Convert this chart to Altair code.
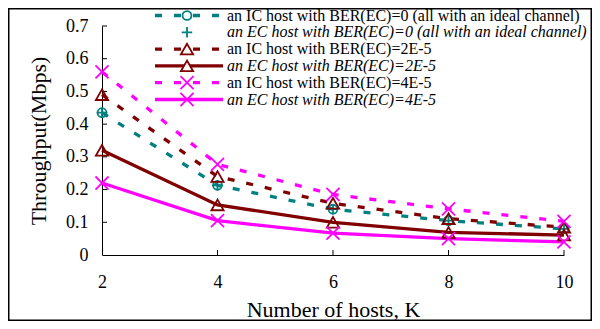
import altair as alt
import pandas as pd

# ---------------- data ----------------
K = [2, 4, 6, 8, 10]
ic_ber0 = [0.435, 0.213, 0.14, 0.105, 0.08]
ec_ber0 = [0.435, 0.213, 0.14, 0.105, 0.08]
ic_ber2 = [0.49, 0.24, 0.158, 0.111, 0.085]
ec_ber2 = [0.32, 0.153, 0.10, 0.069, 0.061]
ic_ber4 = [0.56, 0.277, 0.185, 0.141, 0.103]
ec_ber4 = [0.22, 0.105, 0.067, 0.05, 0.04]

labels = [
    "an IC host with BER(EC)=0 (all with an ideal channel)",
    "an EC host with BER(EC)=0 (all with an ideal channel)",
    "an IC host with BER(EC)=2E-5",
    "an EC host with BER(EC)=2E-5",
    "an IC host with BER(EC)=4E-5",
    "an EC host with BER(EC)=4E-5",
]
y_ticks = [0, 0.1, 0.2, 0.3, 0.4, 0.5, 0.6, 0.7]
x_ticks = [2, 4, 6, 8, 10]

# ---------------- style ----------------
TEAL = "#008080"
MAROON = "#800000"
MAGENTA = "#FF00FF"
X_SHAPE = "M-1,-1L1,1M-1,1L1,-1"
PLUS_SHAPE = "M-1,0L1,0M0,-1L0,1"
DASH = [7, 12]
FONT = "Liberation Serif"

series = [
    dict(values=ic_ber0, color=TEAL, dash=DASH, line=True, shape="circle", size=80, italic=False),
    dict(values=ec_ber0, color=TEAL, dash=None, line=False, shape=PLUS_SHAPE, size=110, italic=True),
    dict(values=ic_ber2, color=MAROON, dash=DASH, line=True, shape="triangle-up", size=150, italic=False),
    dict(values=ec_ber2, color=MAROON, dash=None, line=True, shape="triangle-up", size=150, italic=True),
    dict(values=ic_ber4, color=MAGENTA, dash=DASH, line=True, shape=X_SHAPE, size=170, italic=False),
    dict(values=ec_ber4, color=MAGENTA, dash=None, line=True, shape=X_SHAPE, size=170, italic=True),
]

W, H = 462, 229
xs = alt.Scale(domain=[2, 10], nice=False, zero=False)
ys = alt.Scale(domain=[0, 0.7], nice=False)

x_axis = alt.Axis(
    values=x_ticks, format="d", ticks=False, tickSize=0, grid=False, domainColor="black",
    labelFont=FONT, labelFontSize=18, labelColor="black", labelPadding=27,
    labelBaseline="middle", labelFlush=False, labelOverlap=False,
    title="Number of hosts, K", titleFont=FONT, titleFontSize=22, titleFontWeight="normal",
    titleColor="black", titleY=54, titleX=W / 2, titleAlign="center", titleBaseline="middle",
)
y_axis = alt.Axis(
    values=y_ticks, ticks=False, tickSize=0, grid=False, domainColor="black",
    labelFont=FONT, labelFontSize=18, labelColor="black", labelPadding=14,
    labelExpr="datum.value == 0 ? '0' : format(datum.value, '.1f')", labelFlush=False,
    labelOverlap=False,
    title="Throughput(Mbps)", titleFont=FONT, titleFontSize=22, titleFontWeight="normal",
    titleColor="black", titleX=-64, titleY=H / 2, titleAlign="center", titleBaseline="middle",
    titleAngle=270,
)


def X(field="K"):
    return alt.X(f"{field}:Q", scale=xs, axis=x_axis, title="Number of hosts, K")


def Y(field="v"):
    return alt.Y(f"{field}:Q", scale=ys, axis=y_axis, title="Throughput(Mbps)")


layers = []

# inward ticks
ytick_df = pd.DataFrame({"v": y_ticks[1:]})
layers.append(
    alt.Chart(ytick_df).mark_rule(color="black", strokeWidth=1).encode(
        y=Y(), x=alt.value(0), x2=alt.value(5)
    )
)
xtick_df = pd.DataFrame({"K": x_ticks[1:]})
layers.append(
    alt.Chart(xtick_df).mark_rule(color="black", strokeWidth=1).encode(
        x=X(), y=alt.value(H - 5), y2=alt.value(H)
    )
)

# lines
for s in series:
    if not s["line"]:
        continue
    df = pd.DataFrame({"K": K, "v": s["values"]})
    kw = dict(color=s["color"], strokeWidth=3.3)
    if s["dash"]:
        kw["strokeDash"] = s["dash"]
    layers.append(alt.Chart(df).mark_line(**kw).encode(x=X(), y=Y()))

# markers
for s in series:
    df = pd.DataFrame({"K": K, "v": s["values"]})
    layers.append(
        alt.Chart(df).mark_point(
            shape=s["shape"], size=s["size"], filled=False, color=s["color"],
            strokeWidth=1.8, opacity=1,
        ).encode(x=X(), y=Y())
    )

# legend
LY0, LDY = -10.5, 16.8
for i, (s, lab) in enumerate(zip(series, labels)):
    ly = LY0 + i * LDY
    ldf = pd.DataFrame({"label": [lab]})
    if s["line"]:
        kw = dict(color=s["color"], strokeWidth=3.3)
        if s["dash"]:
            kw["strokeDash"] = s["dash"]
        layers.append(
            alt.Chart(ldf).mark_rule(**kw).encode(
                x=alt.value(53), x2=alt.value(121), y=alt.value(ly)
            )
        )
    pkw = dict(shape=s["shape"], size=s["size"], filled=False, color=s["color"],
               strokeWidth=1.8, opacity=1)
    if s["shape"] != PLUS_SHAPE:
        pkw["fill"] = "white"
    layers.append(
        alt.Chart(ldf).mark_point(**pkw).encode(x=alt.value(85), y=alt.value(ly))
    )
    layers.append(
        alt.Chart(ldf).mark_text(
            align="left", baseline="middle", font=FONT, fontSize=16,
            fontStyle="italic" if s["italic"] else "normal", color="black",
        ).encode(x=alt.value(125), y=alt.value(ly), text="label:N")
    )

# outer frame
frame_df = pd.DataFrame({"a": [0]})
layers.append(
    alt.Chart(frame_df).mark_rect(fill=None, stroke="black", strokeWidth=1.5).encode(
        x=alt.value(-93.25), x2=alt.value(489.25), y=alt.value(-17.25), y2=alt.value(294.25)
    )
)

chart = alt.layer(*layers).properties(
    width=W, height=H,
    padding={"left": 94, "top": 18, "right": 28, "bottom": 66},
    autosize=alt.AutoSizeParams(type="none"),
    background="white",
).configure_view(stroke=None)

chart.save("out.html", embed_options={"renderer": "svg", "actions": False})
